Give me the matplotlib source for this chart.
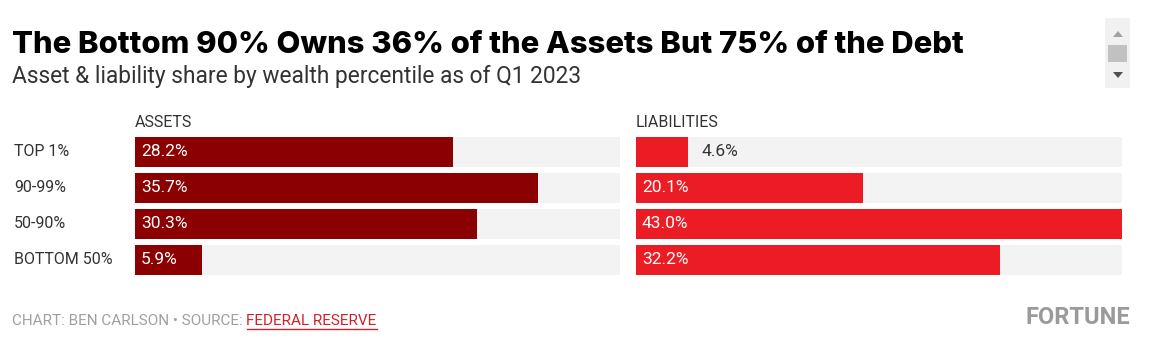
import matplotlib
matplotlib.use("Agg")
import matplotlib.pyplot as plt
from matplotlib import transforms
from matplotlib.patches import Rectangle, Polygon

# --- data ---
groups = ["TOP 1%", "90-99%", "50-90%", "BOTTOM 50%"]
assets = [28.2, 35.7, 30.3, 5.9]
liabilities = [4.6, 20.1, 43.0, 32.2]
panel_titles = ["ASSETS", "LIABILITIES"]

title = "The Bottom 90% Owns 36% of the Assets But 75% of the Debt"
subtitle = "Asset & liability share by wealth percentile as of Q1 2023"
credit = "CHART: BEN CARLSON \u2022 SOURCE: "
source = "FEDERAL RESERVE"

# --- style ---
W, H = 1152, 348
NARROW = ["Roboto", "DejaVu Sans"]
TITLE_FONT = ["Inter", "Roboto", "DejaVu Sans"]
ASSET_RED = "#8b0000"
LIAB_RED = "#ec1c24"
TRACK = "#f3f3f3"
TXT = "#333333"
xmax = max(assets + liabilities)

fig = plt.figure(figsize=(W / 100, H / 100), dpi=100)
fig.patch.set_facecolor("white")


def px_axes(x0, y0, x1, y1):
    # pixel box (top-left origin) -> figure axes
    return fig.add_axes([x0 / W, 1 - y1 / H, (x1 - x0) / W, (y1 - y0) / H])


def draw_panel(ax, values, color, header):
    n = len(values)
    pos = list(range(n))
    h = 30 / 36
    ax.barh(pos, [xmax] * n, height=h, color=TRACK, linewidth=0)
    ax.barh(pos, values, height=h, color=color, linewidth=0)
    ax.set_xlim(0, xmax)
    ax.set_ylim(n - 1 + h / 2, -h / 2)
    ax.axis("off")
    for p, v in zip(pos, values):
        if v > 5:
            ax.annotate(f"{v:.1f}%", (0, p), xytext=(6, 0), textcoords="offset pixels",
                        ha="left", va="center", color="white", fontsize=12.5,
                        family=NARROW)
        else:
            ax.annotate(f"{v:.1f}%", (v, p), xytext=(14, 0), textcoords="offset pixels",
                        ha="left", va="center", color=TXT, fontsize=12.5,
                        family=NARROW)
    ax.text(0, -0.62, header, ha="left", va="bottom",
            fontsize=11.5, color=TXT, family=NARROW)
    return ax


ax1 = px_axes(135, 137, 620, 275)
ax2 = px_axes(636, 137, 1122, 275)
draw_panel(ax1, assets, ASSET_RED, panel_titles[0])
draw_panel(ax2, liabilities, LIAB_RED, panel_titles[1])

tr = transforms.blended_transform_factory(fig.transFigure, ax1.transData)
for i, g in enumerate(groups):
    fig.text(14 / W, i, g, transform=tr, ha="left", va="center",
             fontsize=11.5, color=TXT, family=NARROW)

fig.text(12 / W, 1 - 45 / H, title, ha="left", va="center", fontsize=22.3,
         fontweight="heavy", color="black", family=TITLE_FONT)
fig.text(12 / W, 1 - 77 / H, subtitle, ha="left", va="center", fontsize=16.4,
         color=TXT, family=NARROW)

# footer
cr = fig.text(12 / W, 1 - 321 / H, credit, ha="left", va="center", fontsize=11,
              color="#a0a0a0", family=NARROW)
fig.canvas.draw()
bb = cr.get_window_extent()
src = fig.text(bb.x1 / W, 1 - 321 / H, source, ha="left", va="center", fontsize=11,
               color="#d32027", family=NARROW)
fig.canvas.draw()
sb = src.get_window_extent()
fig.add_artist(plt.Line2D([sb.x0 / W, sb.x1 / W], [sb.y0 / H - 0.004] * 2,
                          color="#d32027", lw=1, transform=fig.transFigure))
fig.text(1130 / W, 1 - 318 / H, "FORTUNE", ha="right", va="center", fontsize=17,
         fontweight="bold", color="#9a9a9a", family=NARROW)

# scrollbar widget at the top right
fig.add_artist(Rectangle((1105 / W, 1 - 88 / H), 25 / W, 70 / H, transform=fig.transFigure,
                         facecolor="#f1f1f1", edgecolor="none"))
fig.add_artist(Rectangle((1108 / W, 1 - 62 / H), 19 / W, 17 / H, transform=fig.transFigure,
                         facecolor="#c1c1c1", edgecolor="none"))
fig.add_artist(Polygon([(1113 / W, 1 - 37 / H), (1123 / W, 1 - 37 / H), (1118 / W, 1 - 31 / H)],
                       transform=fig.transFigure, facecolor="#a3a3a3", edgecolor="none"))
fig.add_artist(Polygon([(1113 / W, 1 - 72 / H), (1123 / W, 1 - 72 / H), (1118 / W, 1 - 78 / H)],
                       transform=fig.transFigure, facecolor="#505050", edgecolor="none"))

fig.savefig("out.png", dpi=100, facecolor="white")
